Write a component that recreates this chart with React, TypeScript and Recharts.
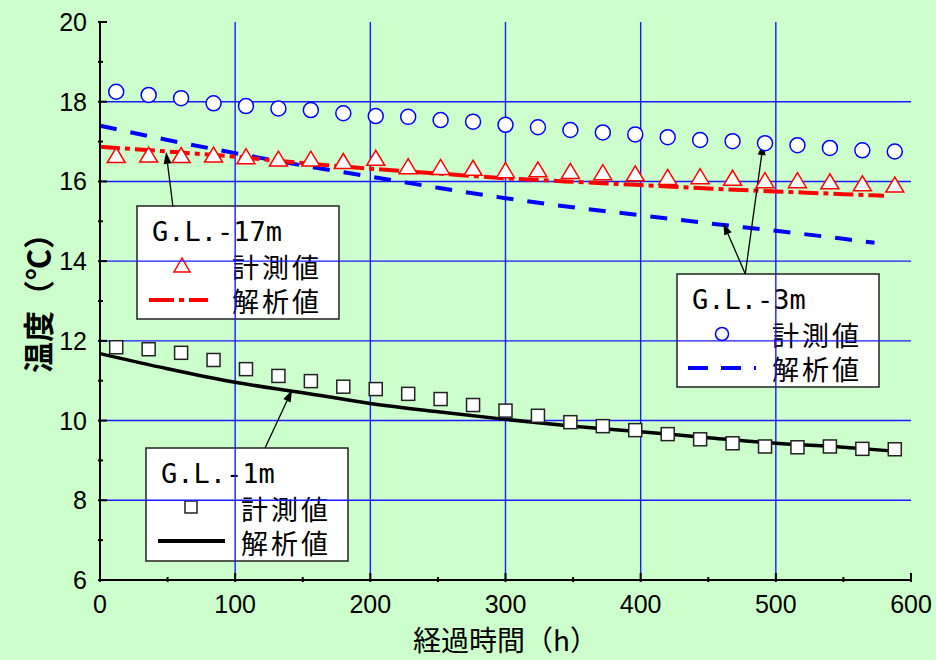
import { ComposedChart, Line, Scatter, XAxis, YAxis, ReferenceLine } from "recharts";

// 計測値 (every 24 h)
const measuredHours = [12, 36, 60, 84, 108, 132, 156, 180, 204, 228, 252, 276, 300, 324, 348, 372, 396, 420, 444, 468, 492, 516, 540, 564, 588];
const gl3Measured = [18.25, 18.17, 18.09, 17.96, 17.89, 17.83, 17.79, 17.71, 17.64, 17.62, 17.54, 17.5, 17.42, 17.36, 17.29, 17.23, 17.18, 17.11, 17.04, 17.01, 16.96, 16.91, 16.84, 16.78, 16.75];
const gl17Measured = [16.65, 16.66, 16.65, 16.66, 16.62, 16.56, 16.56, 16.5, 16.58, 16.37, 16.35, 16.33, 16.27, 16.29, 16.25, 16.22, 16.19, 16.1, 16.12, 16.08, 16.02, 16.02, 15.99, 15.94, 15.91];
const gl1Measured = [11.84, 11.79, 11.7, 11.52, 11.29, 11.12, 10.99, 10.85, 10.79, 10.67, 10.54, 10.39, 10.25, 10.12, 9.96, 9.86, 9.76, 9.66, 9.53, 9.43, 9.35, 9.33, 9.35, 9.29, 9.28];

// 解析値
const gl3CalcHours = [0, 50, 100, 150, 200, 250, 300, 350, 400, 450, 500, 550, 573];
const gl3Calc = [17.4, 17.04, 16.71, 16.4, 16.12, 15.84, 15.58, 15.35, 15.15, 14.95, 14.76, 14.56, 14.46];
const gl17CalcHours = [0, 50, 100, 150, 200, 250, 300, 350, 400, 450, 500, 550, 580];
const gl17Calc = [16.87, 16.75, 16.62, 16.46, 16.32, 16.2, 16.08, 15.99, 15.91, 15.82, 15.75, 15.68, 15.64];
const gl1CalcHours = [0, 50, 100, 150, 200, 250, 300, 350, 400, 450, 500, 550, 585];
const gl1Calc = [11.68, 11.3, 10.96, 10.7, 10.43, 10.22, 10.03, 9.86, 9.72, 9.57, 9.43, 9.33, 9.24];

const xTicks = [0, 50, 100, 150, 200, 250, 300, 350, 400, 450, 500, 550, 600];
const yTicks = [6, 7, 8, 9, 10, 11, 12, 13, 14, 15, 16, 17, 18, 19, 20];
const xGrid = [100, 200, 300, 400, 500];
const yGrid = [8, 10, 12, 14, 16, 18];

const toPoints = (hours: number[], temps: number[]) => hours.map((h, i) => ({ h, t: temps[i] }));

const AXIS_FONT = "'Liberation Sans', Arial, sans-serif";
const JP_FONT = "'Noto Sans CJK JP', sans-serif";
const MONO_FONT = "'DejaVu Sans Mono', monospace";

function BottomTick({ x, y, payload }: any) {
  const major = payload.value % 100 === 0;
  return (
    <g>
      <line x1={x} x2={x} y1={y} y2={y - (major ? 9 : 5)} stroke="#000" strokeWidth={2} />
      {major && (
        <text x={x} y={y + 22} textAnchor="middle" dominantBaseline="central" fontSize={25} fontFamily={AXIS_FONT} fill="#000">
          {payload.value}
        </text>
      )}
    </g>
  );
}

function TopTick({ x, y, payload }: any) {
  const major = payload.value % 100 === 0;
  return <line x1={x} x2={x} y1={y} y2={y + (major ? 9 : 5)} stroke="#000" strokeWidth={2} />;
}

function LeftTick({ x, y, payload }: any) {
  const major = payload.value % 2 === 0;
  return (
    <g>
      <line x1={x} x2={x + (major ? 9 : 5)} y1={y} y2={y} stroke="#000" strokeWidth={2} />
      {major && (
        <text x={x - 11} y={y} textAnchor="end" dominantBaseline="central" fontSize={25} fontFamily={AXIS_FONT} fill="#000">
          {payload.value}
        </text>
      )}
    </g>
  );
}

function RightTick({ x, y, payload }: any) {
  const major = payload.value % 2 === 0;
  return <line x1={x} x2={x - (major ? 9 : 5)} y1={y} y2={y} stroke="#000" strokeWidth={2} />;
}

const circleShape = ({ cx, cy }: any) => <circle cx={cx} cy={cy} r={7.5} fill="#fff" stroke="#0000ff" strokeWidth={1.5} />;
const triangleShape = ({ cx, cy }: any) => (
  <polygon points={`${cx},${cy - 8} ${cx - 9},${cy + 7} ${cx + 9},${cy + 7}`} fill="#fff" stroke="#ff0000" strokeWidth={1.5} />
);
const squareShape = ({ cx, cy }: any) => (
  <rect x={cx - 6.5} y={cy - 6.5} width={13} height={13} fill="#fff" stroke="#222" strokeWidth={1.5} />
);

const arrowShape = ({ x1, y1, x2, y2 }: any) => {
  const a = Math.atan2(y2 - y1, x2 - x1);
  const len = 12;
  const hw = 4;
  const bx = x2 - len * Math.cos(a);
  const by = y2 - len * Math.sin(a);
  const px = -Math.sin(a) * hw;
  const py = Math.cos(a) * hw;
  return (
    <g>
      <line x1={x1} y1={y1} x2={bx} y2={by} stroke="#000" strokeWidth={1.3} />
      <polygon points={`${x2},${y2} ${bx + px},${by + py} ${bx - px},${by - py}`} fill="#000" />
    </g>
  );
};

function LegendBox({ x, y, title, symbol, line }: { x: number; y: number; title: string; symbol: any; line: any }) {
  return (
    <g>
      <rect x={x} y={y} width={202} height={113} fill="#fff" stroke="#222" strokeWidth={1.5} />
      <text x={x + 15} y={y + 25} dominantBaseline="central" fontSize={27} fontFamily={MONO_FONT} fill="#000">
        {title}
      </text>
      {symbol}
      <text x={x + 95} y={y + 60} dominantBaseline="central" fontSize={27} letterSpacing={3} fontFamily={JP_FONT} fill="#000">
        計測値
      </text>
      {line}
      <text x={x + 95} y={y + 94} dominantBaseline="central" fontSize={27} letterSpacing={3} fontFamily={JP_FONT} fill="#000">
        解析値
      </text>
    </g>
  );
}

function Annotations() {
  return (
    <g>
      <LegendBox
        x={137}
        y={206}
        title="G.L.-17m"
        symbol={<polygon points="182,258 174,272 190,272" fill="#fff" stroke="#ff0000" strokeWidth={1.5} />}
        line={<line x1={149} x2={208} y1={300} y2={300} stroke="#ff0000" strokeWidth={4} strokeDasharray="25 5 5 5" />}
      />
      <LegendBox
        x={677}
        y={274}
        title="G.L.-3m"
        symbol={<circle cx={722} cy={334} r={6.5} fill="#fff" stroke="#0000ff" strokeWidth={1.5} />}
        line={<line x1={688} x2={756} y1={368} y2={368} stroke="#0000ff" strokeWidth={4} strokeDasharray="20 13" />}
      />
      <LegendBox
        x={146}
        y={448}
        title="G.L.-1m"
        symbol={<rect x={185} y={501} width={12} height={12} fill="#fff" stroke="#222" strokeWidth={1.5} />}
        line={<line x1={158} x2={225} y1={541} y2={541} stroke="#000" strokeWidth={4} />}
      />
      <text x={36} y={373} transform="rotate(-90 36 373)" dominantBaseline="central" fontSize={31} fontWeight="bold" fontFamily={JP_FONT} fill="#000">
        温度（℃）
      </text>
      <text x={413} y={639} dominantBaseline="central" fontSize={28} fontFamily={JP_FONT} fill="#000">
        経過時間（h）
      </text>
    </g>
  );
}

export default function App() {
  return (
    <div style={{ position: "absolute", left: 0, top: 0, width: 936, height: 660, background: "#ccffcc", overflow: "hidden" }}>
      <ComposedChart width={936} height={660} margin={{ top: 22, right: 25, bottom: 20, left: 40 }}>
        <XAxis
          dataKey="h"
          type="number"
          domain={[0, 600]}
          ticks={xTicks}
          interval={0}
          height={60}
          tickSize={0}
          tickLine={false}
          axisLine={{ stroke: "#000", strokeWidth: 2 }}
          tick={<BottomTick />}
        />
        <XAxis
          xAxisId="top"
          orientation="top"
          type="number"
          domain={[0, 600]}
          ticks={xTicks}
          interval={0}
          height={0}
          tickSize={0}
          tickLine={false}
          axisLine={{ stroke: "#000", strokeWidth: 2 }}
          tick={<TopTick />}
        />
        <YAxis
          dataKey="t"
          type="number"
          domain={[6, 20]}
          ticks={yTicks}
          interval={0}
          width={60}
          tickSize={0}
          tickLine={false}
          axisLine={{ stroke: "#000", strokeWidth: 2 }}
          tick={<LeftTick />}
        />
        <YAxis
          yAxisId="right"
          orientation="right"
          type="number"
          domain={[6, 20]}
          ticks={yTicks}
          interval={0}
          width={0}
          tickSize={0}
          tickLine={false}
          axisLine={{ stroke: "#000", strokeWidth: 2 }}
          tick={<RightTick />}
        />
        {xGrid.map((v) => (
          <ReferenceLine key={`gx${v}`} x={v} stroke="#1a1aff" strokeWidth={1.4} />
        ))}
        {yGrid.map((v) => (
          <ReferenceLine key={`gy${v}`} y={v} stroke="#1a1aff" strokeWidth={1.4} />
        ))}
        <Line data={toPoints(gl1CalcHours, gl1Calc)} dataKey="t" type="monotone" stroke="#000" strokeWidth={3.5} dot={false} isAnimationActive={false} />
        <Line data={toPoints(gl3CalcHours, gl3Calc)} dataKey="t" type="monotone" stroke="#0000ff" strokeWidth={4} strokeDasharray="17 14" dot={false} isAnimationActive={false} />
        <Line data={toPoints(gl17CalcHours, gl17Calc)} dataKey="t" type="monotone" stroke="#ff0000" strokeWidth={4} strokeDasharray="20 5 5 5" dot={false} isAnimationActive={false} />
        <Scatter data={toPoints(measuredHours, gl3Measured)} dataKey="t" shape={circleShape} isAnimationActive={false} />
        <Scatter data={toPoints(measuredHours, gl17Measured)} dataKey="t" shape={triangleShape} isAnimationActive={false} />
        <Scatter data={toPoints(measuredHours, gl1Measured)} dataKey="t" shape={squareShape} isAnimationActive={false} />
        <ReferenceLine segment={[{ x: 54, y: 15.36 }, { x: 48.9, y: 16.74 }]} shape={arrowShape} />
        <ReferenceLine segment={[{ x: 477.4, y: 13.68 }, { x: 490.7, y: 16.96 }]} shape={arrowShape} />
        <ReferenceLine segment={[{ x: 477.4, y: 13.68 }, { x: 461.1, y: 14.96 }]} shape={arrowShape} />
        <ReferenceLine segment={[{ x: 122.1, y: 9.31 }, { x: 142.1, y: 10.77 }]} shape={arrowShape} />
        <Annotations />
      </ComposedChart>
    </div>
  );
}
